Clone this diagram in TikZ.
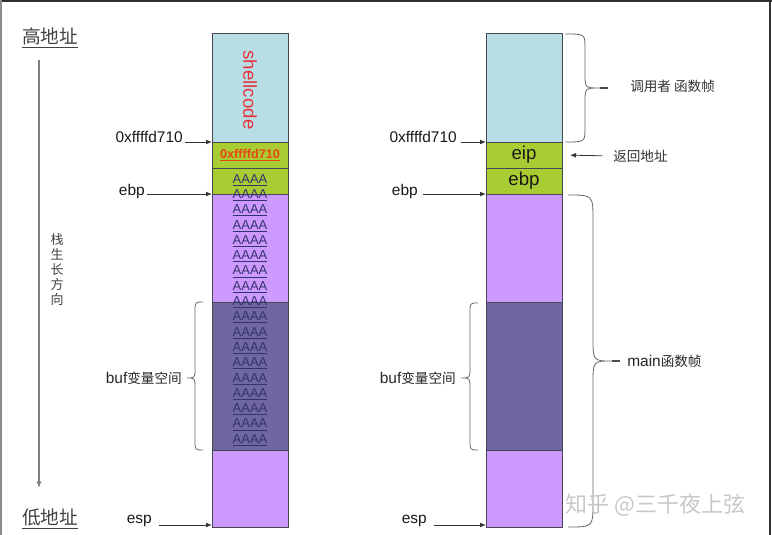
\documentclass[tikz,border=0pt]{standalone}
\usepackage{fontspec}
\setmainfont{Liberation Sans}
\newfontfamily\cjk{Noto Sans CJK SC}
\usetikzlibrary{arrows.meta}
\definecolor{cyanc}{RGB}{183,222,229}
\definecolor{greenc}{RGB}{170,204,51}
\definecolor{lpurp}{RGB}{204,153,255}
\definecolor{dpurp}{RGB}{111,104,160}
\definecolor{redc}{RGB}{232,50,60}
\definecolor{orc}{RGB}{230,70,20}
\definecolor{aaac}{RGB}{55,50,110}
\definecolor{linec}{RGB}{70,70,85}
\definecolor{wmark}{RGB}{200,200,200}
\begin{document}
\begin{tikzpicture}[x=0.75pt,y=-0.75pt,
  cell/.style={draw=linec, line width=0.6pt, minimum width=57pt, inner sep=0pt, outer sep=0pt, anchor=north west},
  lbl/.style={inner sep=0pt, font=\fontsize{11.6}{13}\selectfont, text=black!90},
  cjklbl/.style={inner sep=0pt, font=\cjk\fontsize{10.2}{12}\selectfont, text=black!80},
  boxtxt/.style={inner sep=0pt, font=\fontsize{14}{16}\selectfont, text=black!90},
  aaa/.style={inner sep=0pt, font=\fontsize{9.75}{11}\selectfont, text=aaac},
  arr/.style={-{Latex[length=4.5pt,width=3.6pt]}, line width=0.6pt, draw=black!80},
  garr/.style={-{Latex[length=5pt,width=4pt]}, line width=0.9pt, draw=black!50},
  bracel/.style={draw=black!60, line width=0.6pt},
  addr/.style={inner sep=0pt, font=\cjk\fontsize{14}{16}\selectfont, text=black!75}]
\useasboundingbox (0,0) rectangle (772,535);
% frame
\draw[line width=2.2pt, draw=black!82] (0,1) -- (772,1);
\draw[line width=0.9pt, draw=black!45] (1,0) -- (1,535);
\draw[line width=1.4pt, draw=black!80] (770,0) -- (770,535);
% left column
\node[cell, fill=cyanc, minimum height=81.75pt] (Lsc) at (212,33) {};
\node[cell, fill=greenc, minimum height=19.5pt] (Lret) at (212,142) {};
\node[cell, fill=greenc, minimum height=19.5pt] (Lebp) at (212,168) {};
\node[cell, fill=lpurp, minimum height=81pt] (Lloc) at (212,194) {};
\node[cell, fill=dpurp, minimum height=111pt] (Lbuf) at (212,302) {};
\node[cell, fill=lpurp, minimum height=57.75pt] (Lbot) at (212,450) {};
% right column
\node[cell, fill=cyanc, minimum height=81.75pt] (Rsc) at (486,33) {};
\node[cell, fill=greenc, minimum height=19.5pt] (Rret) at (486,142) {};
\node[cell, fill=greenc, minimum height=19.5pt] (Rebp) at (486,168) {};
\node[cell, fill=lpurp, minimum height=81pt] (Rloc) at (486,194) {};
\node[cell, fill=dpurp, minimum height=111pt] (Rbuf) at (486,302) {};
\node[cell, fill=lpurp, minimum height=57.75pt] (Rbot) at (486,450) {};
% texts in left column
\node[rotate=-90, text=redc, font=\fontsize{14}{16}\selectfont, inner sep=0pt] (sc) at (250,90) {shellcode};
\node[text=orc, font=\bfseries\fontsize{9.5}{11}\selectfont, inner sep=0pt] (redaddr) at (Lret.center) {\underline{0xffffd710}};
\foreach \k in {0,...,17} {
  \node[aaa] (A\k) at (250,{180+15.3*\k}) {\underline{AAAA}};
}
% texts in right column
\node[boxtxt] (eip) at (Rret.center) {eip};
\node[boxtxt] (ebpt) at (Rebp.center) {ebp};
% left side labels
\node[addr] (hi) at (50,38) {\underline{高地址}};
\node[addr] (lo) at (50,519) {\underline{低地址}};
\coordinate (vtop) at (39,60);
\coordinate (vbot) at (39,488);
\draw[garr] (vtop) -- (vbot);
\node[inner sep=0pt, font=\cjk\fontsize{9.75}{11.25}\selectfont, align=center, text=black!75] (dir) at (57,270) {栈\\生\\长\\方\\向};
\node[lbl, anchor=east] (L0x) at (183,136.5) {0xffffd710};
\draw[arr, shorten <=1.5pt] (L0x.east |- Lret.north west) -- (Lret.north west);
\node[lbl, anchor=east] (Lebpl) at (145,192) {ebp};
\draw[arr, shorten <=1.5pt] (Lebpl.east |- Lloc.north west) -- (Lloc.north west);
\node[lbl, anchor=east] (Lesp) at (152,521) {esp};
\coordinate (Lespt) at ([yshift=1.5pt]Lbot.south west);
\draw[arr, shorten <=5pt] (Lesp.east |- Lespt) -- (Lespt);
\node[inner sep=0pt, anchor=east, text=black!85] (Lbufl) at (182,378) {{\fontsize{11.6}{13}\selectfont buf}{\cjk\fontsize{10.2}{12}\selectfont 变量空间}};
\draw[bracel] (203,302) .. controls (195,302) .. (195,312) -- (195,368) .. controls (195,378) .. (187,378)
              .. controls (195,378) .. (195,388) -- (195,440) .. controls (195,450) .. (203,450);
% right side labels
\node[lbl, anchor=east] (R0x) at (457,136.5) {0xffffd710};
\draw[arr, shorten <=3pt] (R0x.east |- Rret.north west) -- (Rret.north west);
\node[lbl, anchor=east] (Rebpl) at (418,192) {ebp};
\draw[arr, shorten <=4pt] (Rebpl.east |- Rloc.north west) -- (Rloc.north west);
\node[lbl, anchor=east] (Resp) at (427,521) {esp};
\coordinate (Respt) at ([yshift=1.5pt]Rbot.south west);
\draw[arr, shorten <=5pt] (Resp.east |- Respt) -- (Respt);
\node[inner sep=0pt, anchor=east, text=black!85] (Rbufl) at (456,378) {{\fontsize{11.6}{13}\selectfont buf}{\cjk\fontsize{10.2}{12}\selectfont 变量空间}};
\draw[bracel] (478,303) .. controls (470,303) .. (470,313) -- (470,368) .. controls (470,378) .. (461,378)
              .. controls (470,378) .. (470,388) -- (470,440) .. controls (470,450) .. (478,450);
% caller frame brace
\draw[bracel] (565,34) .. controls (585,34) .. (585,48) -- (585,74) .. controls (585,88) .. (600,88)
              .. controls (585,88) .. (585,102) -- (585,128) .. controls (585,142) .. (565,142);
\draw[line width=1pt, draw=black!70] (600,88) -- (608,88);
\node[cjklbl, anchor=west] (caller) at (630,86) {调用者 函数帧};
% return address
\node[cjklbl, anchor=west] (ret) at (613,156) {返回地址};
\draw[arr, shorten <=8pt, shorten >=6pt] (ret.west) -- (Rret.east);
% main frame brace
\draw[bracel] (568,195) .. controls (593,195) .. (593,220) -- (593,338) .. controls (593,361) .. (612,361)
              .. controls (593,361) .. (593,384) -- (593,503) .. controls (593,527) .. (568,527);
\draw[line width=1pt, draw=black!70] (612,361) -- (620,361);
\node[inner sep=0pt, anchor=west, text=black!85] (mainl) at (627,361) {{\fontsize{11.6}{13}\selectfont main}{\cjk\fontsize{10.2}{12}\selectfont 函数帧}};
% watermark
\node[inner sep=0pt, anchor=west, text=wmark, font=\cjk\fontsize{16.5}{18}\selectfont] (wm) at (565,505) {知乎 @三千夜上弦};
\end{tikzpicture}
\end{document}
